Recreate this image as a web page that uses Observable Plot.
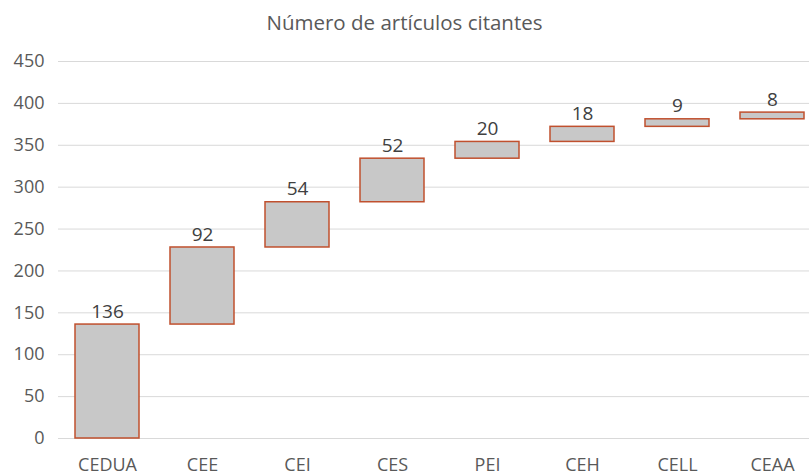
<!DOCTYPE html>
<html>
<head>
<meta charset="utf-8">
<script src="https://cdn.jsdelivr.net/npm/d3@7"></script>
<script src="https://cdn.jsdelivr.net/npm/@observablehq/plot@0.6"></script>
<style>
  html, body { margin: 0; padding: 0; background: #fff; }
  #title { height: 40px; line-height: 44px; text-align: center; font-family: "Open Sans", sans-serif; font-size: 20.5px; color: #595959; }
</style>
</head>
<body>
<div id="title">Número de artículos citantes</div>
<div id="chart"></div>
<script>
const categories = ["CEDUA", "CEE", "CEI", "CES", "PEI", "CEH", "CELL", "CEAA"];
const values = [136, 92, 54, 52, 20, 18, 9, 8];
const yTicks = [0, 50, 100, 150, 200, 250, 300, 350, 400, 450];

let acc = 0;
const rows = categories.map((c, i) => {
  const start = acc;
  acc += values[i];
  return { cat: c, value: values[i], start, end: acc };
});

const chart = Plot.plot({
  width: 809,
  height: 435,
  marginLeft: 58,
  marginRight: 0,
  marginTop: 21,
  marginBottom: 37,
  style: { fontFamily: "Open Sans, sans-serif", fontSize: "18px", color: "#595959", background: "#fff" },
  x: { domain: categories, range: [58, 820], paddingInner: 0.33, paddingOuter: 0.165, label: null },
  y: { domain: [0, 450], ticks: yTicks, label: null },
  marks: [
    Plot.gridY(yTicks, { stroke: "#d9d9d9", strokeOpacity: 1, strokeWidth: 1 }),
    Plot.axisY({ ticks: yTicks, tickSize: 0, tickPadding: 14, fontSize: 18, fill: "#595959", label: null }),
    Plot.axisX({ tickSize: 0, tickPadding: 20, fontSize: 18, fill: "#595959", label: null }),
    Plot.barY(rows, { x: "cat", y1: "start", y2: "end", fill: "#c8c8c8", stroke: "#c0502e", strokeWidth: 1.5, inset: 0 }),
    Plot.text(rows, { x: "cat", y: "end", text: d => String(d.value), dy: -13, fontSize: 19, fill: "#404040" })
  ]
});
document.getElementById("chart").appendChild(chart);
</script>
</body>
</html>
